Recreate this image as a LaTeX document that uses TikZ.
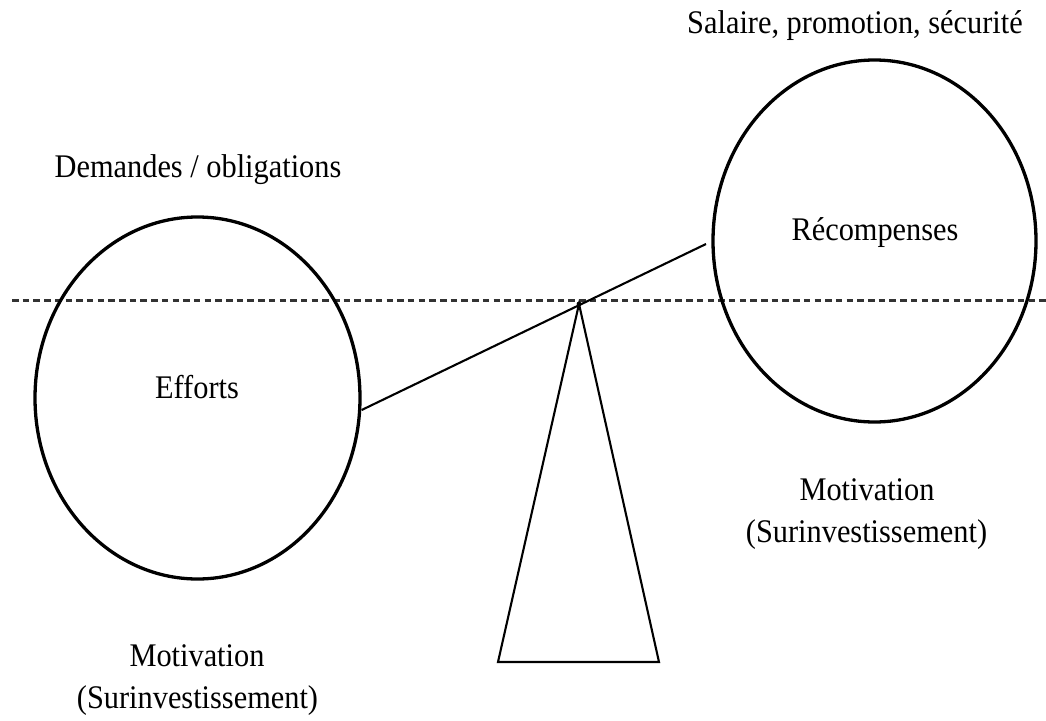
\documentclass[tikz,border=0pt]{standalone}
\usepackage{fontspec}
\setmainfont{Liberation Serif}
\usetikzlibrary{shapes.geometric}
\begin{document}
\begin{tikzpicture}[x=1pt,y=-1pt,
  label text/.style={anchor=base,inner sep=0pt,xscale=0.92,
    font=\fontsize{33}{40}\selectfont},
  plate/.style={draw,ellipse,line width=3.3pt,inner sep=0pt},
  thin line/.style={line width=2.1pt},
  level line/.style={line width=2.2pt,draw=black!80,dash pattern=on 6.5pt off 4.2pt}]
  \useasboundingbox (0,0) rectangle (1046,720);

  % horizontal reference level
  \coordinate (lvlL) at (12,300.5);
  \coordinate (lvlR) at (1046,300.5);
  \draw[level line] (lvlL) -- (lvlR);

  % the two pans of the balance
  \node[plate,minimum width=325pt,minimum height=362pt] (effort) at (197.5,398) {};
  \node[plate,minimum width=323pt,minimum height=362pt] (reward) at (874.5,241) {};

  % fulcrum
  \coordinate (apex) at (579,304);
  \coordinate (baseL) at (498,662);
  \coordinate (baseR) at (659,662);
  \draw[thin line,line join=miter] (apex) -- (baseL) -- (baseR) -- cycle;

  % beam
  \coordinate (beamL) at (effort.east |- 0,410);
  \coordinate (beamR) at (706,244);
  \draw[thin line] (beamL) -- (beamR);
  \fill (apex) circle (2.4pt);

  % texts
  \node[label text] (t1) at (198,177) {Demandes / obligations};
  \node[label text] (t2) at (855,33) {Salaire, promotion, sécurité};
  \node[label text] (t3) at (197,398) {Efforts};
  \node[label text] (t4) at (875,240) {Récompenses};
  \node[label text] (t5) at (867,500) {Motivation};
  \node[label text] (t6) at (866.5,542) {(Surinvestissement)};
  \node[label text] (t7) at (197,666.5) {Motivation};
  \node[label text] (t8) at (197.5,708) {(Surinvestissement)};
\end{tikzpicture}
\end{document}
